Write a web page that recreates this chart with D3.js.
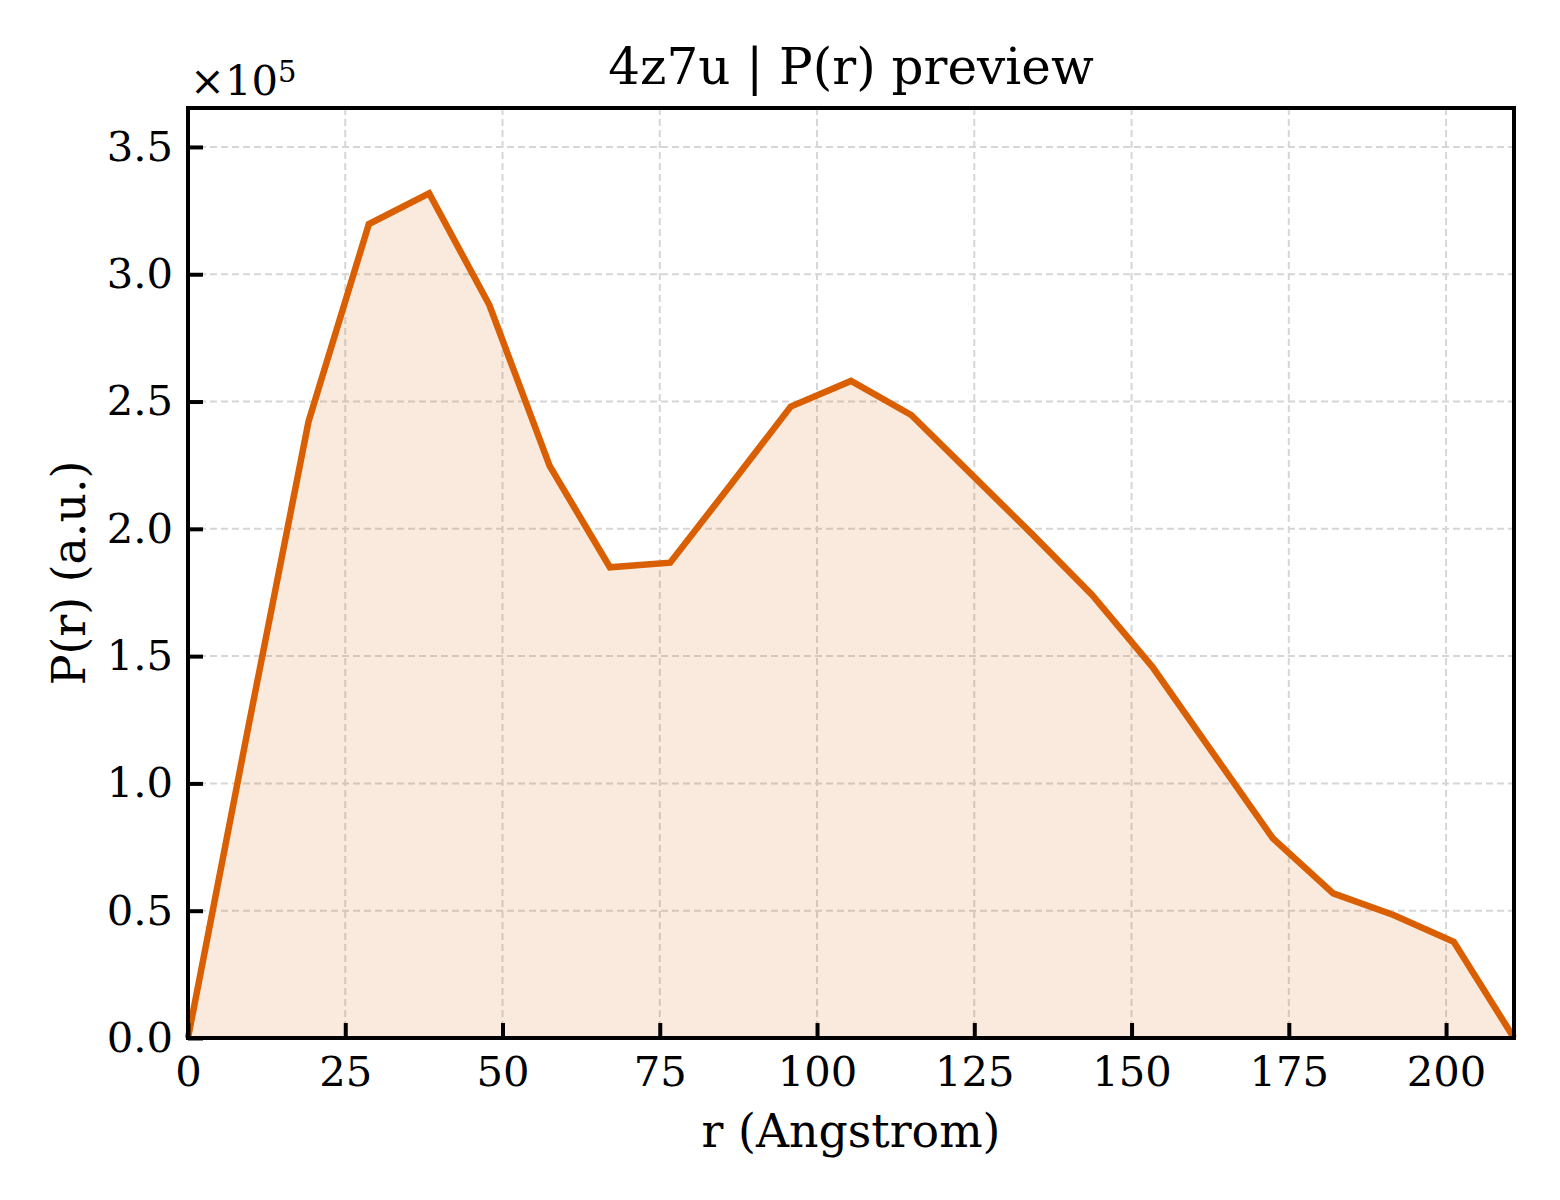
<!DOCTYPE html>
<html>
<head>
<meta charset="utf-8">
<script src="https://cdn.jsdelivr.net/npm/d3@7"></script>
<style>
    body { margin: 0; background: white; }
    svg text { font-family: "DejaVu Serif", serif; fill: black; }
</style>
</head>
<body>
<svg id="chart" width="1560" height="1200"></svg>
<script>
// P(r) curve, r in Angstrom, P in units of 1e5
const rValues = [0, 9.58, 19.16, 28.75, 38.33, 47.91, 57.49, 67.07, 76.65, 86.24, 95.82,
    105.4, 114.98, 124.56, 134.15, 143.73, 153.31, 162.89, 172.47, 182.05, 191.64, 201.22, 210.8];
const pValues = [0, 1.22, 2.421, 3.197, 3.318, 2.879, 2.247, 1.849, 1.867, 2.172, 2.480,
    2.581, 2.447, 2.214, 1.98, 1.740, 1.458, 1.121, 0.784, 0.568, 0.483, 0.378, 0];
const xTicks = [0, 25, 50, 75, 100, 125, 150, 175, 200];
const yTicks = [0, 0.5, 1.0, 1.5, 2.0, 2.5, 3.0, 3.5];

const svgSpace = d3.select("#chart");
const plotL = 188, plotR = 1514, plotT = 108, plotB = 1038;
const lineColor = "#d95f02";

const x = d3.scaleLinear().domain([0, 210.8]).range([plotL, plotR]);
const y = d3.scaleLinear().domain([0, 3.653]).range([plotB, plotT]);

const pts = rValues.map((r, i) => [r, pValues[i]]);

// grid
const grid = svgSpace.append("g").attr("class", "grid");
grid.selectAll("line.gx")
    .data(xTicks.filter(d => d > 0))
    .enter().append("line")
    .attr("x1", d => x(d)).attr("x2", d => x(d))
    .attr("y1", plotT).attr("y2", plotB)
    .attr("stroke", "#d6d6d6").attr("stroke-width", 2)
    .attr("stroke-dasharray", "7,4");
grid.selectAll("line.gy")
    .data(yTicks.filter(d => d > 0))
    .enter().append("line")
    .attr("y1", d => y(d)).attr("y2", d => y(d))
    .attr("x1", plotL).attr("x2", plotR)
    .attr("stroke", "#d6d6d6").attr("stroke-width", 2)
    .attr("stroke-dasharray", "7,4");

// fill + line
svgSpace.append("path")
    .datum(pts)
    .attr("d", d3.area().x(d => x(d[0])).y0(y(0)).y1(d => y(d[1])))
    .attr("fill", lineColor)
    .attr("fill-opacity", 0.13);

svgSpace.append("path")
    .datum(pts)
    .attr("d", d3.line().x(d => x(d[0])).y(d => y(d[1])))
    .attr("fill", "none")
    .attr("stroke", lineColor)
    .attr("stroke-width", 6.5)
    .attr("stroke-linejoin", "miter");

// axes, ticks inward
const xAxis = svgSpace.append("g")
    .attr("transform", `translate(0,${plotB})`)
    .call(d3.axisBottom(x).tickValues(xTicks).tickSize(-15).tickPadding(30).tickFormat(d3.format("d")));
const yAxis = svgSpace.append("g")
    .attr("transform", `translate(${plotL},0)`)
    .call(d3.axisLeft(y).tickValues(yTicks).tickSize(-15).tickPadding(15).tickFormat(d3.format(".1f")));

[xAxis, yAxis].forEach(a => {
    a.select(".domain").remove();
    a.selectAll(".tick line").attr("stroke", "black").attr("stroke-width", 4);
    a.selectAll(".tick text")
        .style("font-family", "'DejaVu Serif', serif")
        .style("font-size", "41.7px")
        .attr("fill", "black");
});
xAxis.selectAll(".tick text").attr("dy", "0.71em").attr("y", 18);

// frame
svgSpace.append("rect")
    .attr("x", plotL).attr("y", plotT)
    .attr("width", plotR - plotL).attr("height", plotB - plotT)
    .attr("fill", "none").attr("stroke", "black").attr("stroke-width", 4);

// texts
addText("4z7u | P(r) preview", (plotL + plotR) / 2, 84, "middle", "50px");
addText("r (Angstrom)", (plotL + plotR) / 2, 1147, "middle", "45.8px");
addText("P(r) (a.u.)", 0, 0, "middle", "45.8px")
    .attr("transform", `translate(85,${(plotT + plotB) / 2}) rotate(-90)`);

const offTxt = addText("×10", 190, 95, "start", "41.7px");
offTxt.append("tspan").text("5").attr("dy", "-0.45em").style("font-size", "29px");

function addText(txt, px, py, anchor, fontSize) {
    return svgSpace
        .append("text")
        .text(txt)
        .attr("x", px)
        .attr("y", py)
        .style("text-anchor", anchor)
        .style("font-size", fontSize);
}
</script>
</body>
</html>
